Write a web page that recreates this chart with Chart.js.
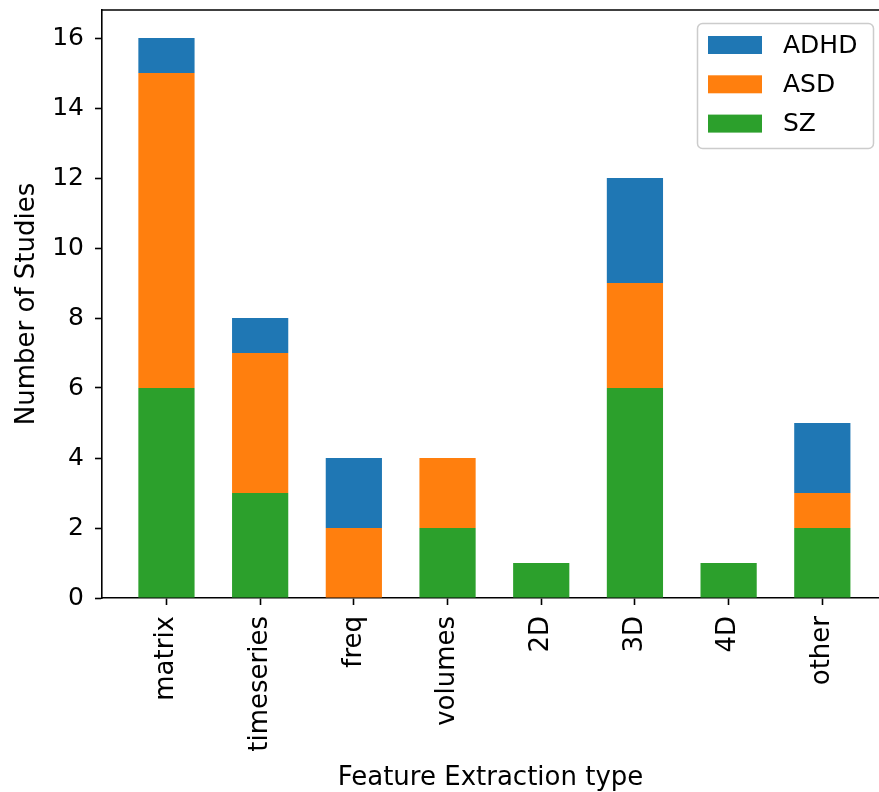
<!DOCTYPE html>
<html>
<head>
<meta charset="utf-8">
<script src="https://cdn.jsdelivr.net/npm/chart.js@4/dist/chart.umd.min.js"></script>
<style>
  html, body { margin: 0; padding: 0; background: #fff; }
  #wrap { width: 879px; height: 792px; }
</style>
</head>
<body>
<div id="wrap"><canvas id="c" width="879" height="792"></canvas></div>
<script>
// Feature extraction categories and study counts per disorder
const categories = ['matrix', 'timeseries', 'freq', 'volumes', '2D', '3D', '4D', 'other'];
const szCounts   = [6, 3, 0, 2, 1, 6, 1, 2];
const asdCounts  = [9, 4, 2, 2, 0, 3, 0, 1];
const adhdCounts = [1, 1, 2, 0, 0, 3, 0, 2];
const yTicks = [0, 2, 4, 6, 8, 10, 12, 14, 16];

const FONT = 'DejaVu Sans';
const toPoints = arr => arr.map((v, i) => ({ x: i, y: v }));

// Top spine of the axes frame
const frameTop = {
  id: 'frameTop',
  afterDraw(chart) {
    const { ctx, chartArea: a } = chart;
    ctx.save();
    ctx.strokeStyle = '#000';
    ctx.lineWidth = 1.6;
    ctx.beginPath();
    ctx.moveTo(a.left, a.top);
    ctx.lineTo(a.right, a.top);
    ctx.stroke();
    ctx.restore();
  }
};

// Legend box in the upper right corner of the plot
const cornerLegend = {
  id: 'cornerLegend',
  afterDraw(chart) {
    const { ctx } = chart;
    const items = chart.data.datasets.slice().reverse();
    const box = { x: 697, y: 23, w: 176, h: 125, r: 5 };
    ctx.save();
    ctx.beginPath();
    ctx.roundRect(box.x + 0.5, box.y + 0.5, box.w, box.h, box.r);
    ctx.fillStyle = 'rgba(255,255,255,0.8)';
    ctx.fill();
    ctx.strokeStyle = '#cccccc';
    ctx.lineWidth = 1.5;
    ctx.stroke();
    ctx.font = '25px "' + FONT + '"';
    ctx.textBaseline = 'middle';
    ctx.textAlign = 'left';
    items.forEach((ds, i) => {
      const cy = 45 + i * 39.3;
      ctx.fillStyle = ds.backgroundColor;
      ctx.fillRect(708, cy - 9, 54, 18);
      ctx.fillStyle = '#000';
      ctx.fillText(ds.label, 783, cy + 1);
    });
    ctx.restore();
  }
};

new Chart(document.getElementById('c'), {
  type: 'bar',
  data: {
    datasets: [
      { label: 'SZ',   data: toPoints(szCounts),   backgroundColor: '#2ca02c' },
      { label: 'ASD',  data: toPoints(asdCounts),  backgroundColor: '#ff7f0e' },
      { label: 'ADHD', data: toPoints(adhdCounts), backgroundColor: '#1f77b4' }
    ]
  },
  options: {
    responsive: false,
    animation: false,
    layout: { padding: { top: 10, left: 0, right: 0, bottom: 0 } },
    datasets: { bar: { barPercentage: 0.6, categoryPercentage: 1.0, borderWidth: 0 } },
    plugins: { legend: { display: false }, tooltip: { enabled: false } },
    scales: {
      x: {
        type: 'linear',
        stacked: true,
        offset: false,
        min: -0.688,
        max: 7.605,
        afterBuildTicks(scale) { scale.ticks = categories.map((_, i) => ({ value: i })); },
        afterFit(scale) {
          scale.height = 194;
          scale.paddingLeft = 0;
          scale.paddingRight = 0;
        },
        grid: { offset: false, drawOnChartArea: false, drawTicks: true, tickLength: 7, tickWidth: 1.6, tickColor: '#000' },
        border: { display: true, color: '#000', width: 1.6 },
        ticks: {
          autoSkip: false,
          minRotation: 90,
          maxRotation: 90,
          padding: 11,
          color: '#000',
          font: { family: FONT, size: 26 },
          callback: v => categories[v]
        },
        title: {
          display: true,
          text: 'Feature Extraction type',
          color: '#000',
          font: { family: FONT, size: 26 },
          padding: { top: 0, bottom: -2 }
        }
      },
      y: {
        stacked: true,
        min: 0,
        max: 16.8,
        afterBuildTicks(scale) { scale.ticks = yTicks.map(v => ({ value: v })); },
        afterFit(scale) {
          scale.width = 102;
          scale.paddingTop = 0;
          scale.paddingBottom = 0;
        },
        grid: { drawOnChartArea: false, drawTicks: true, tickLength: 7, tickWidth: 1.6, tickColor: '#000' },
        border: { display: true, color: '#000', width: 1.6 },
        ticks: {
          padding: 11,
          color: '#000',
          font: { family: FONT, size: 25 }
        },
        title: {
          display: true,
          text: 'Number of Studies',
          color: '#000',
          font: { family: FONT, size: 26 },
          padding: { top: 12, bottom: 0 }
        }
      }
    }
  },
  plugins: [frameTop, cornerLegend]
});
</script>
</body>
</html>
